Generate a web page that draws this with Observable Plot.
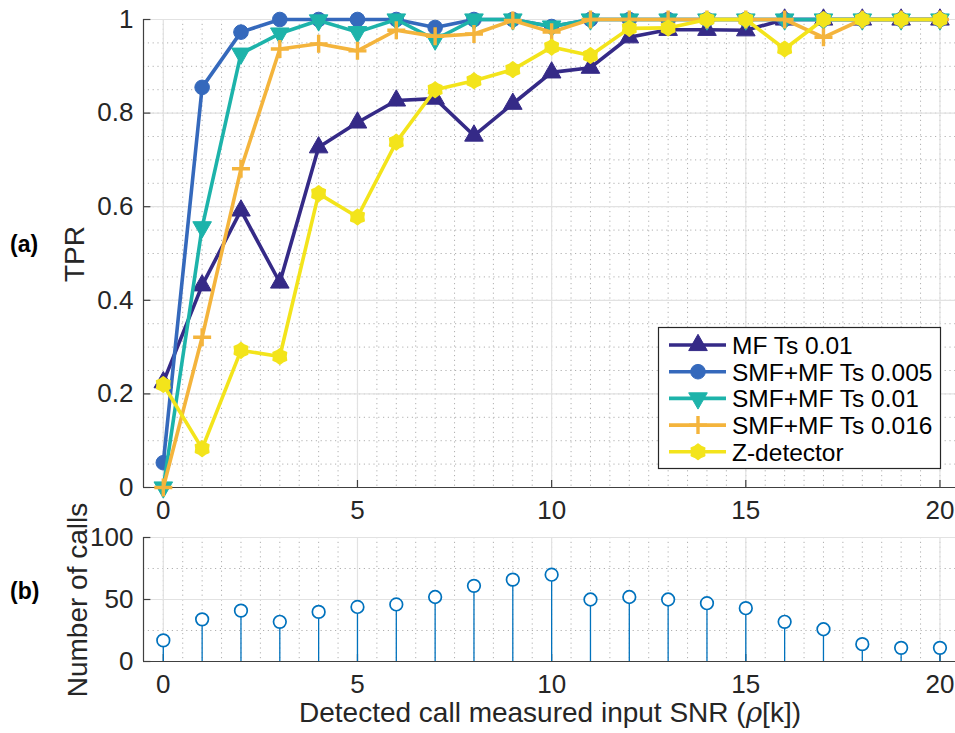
<!DOCTYPE html>
<html><head><meta charset="utf-8">
<script src="https://cdn.jsdelivr.net/npm/d3@7"></script>
<script src="https://cdn.jsdelivr.net/npm/@observablehq/plot@0.6"></script>
<style>
body{margin:0;background:#fff;}
#wrap{position:relative;width:955px;height:733px;overflow:hidden;background:#fff;}
#wrap > svg, #wrap > div{position:absolute;}
</style></head><body><div id="wrap"></div>
<script>
// ---------- data ----------
const snr = [0,1,2,3,4,5,6,7,8,9,10,11,12,13,14,15,16,17,18,19,20];
const mfTs001    = [0.225,0.432,0.592,0.438,0.727,0.780,0.827,0.831,0.752,0.820,0.887,0.897,0.962,0.978,0.978,0.977,1,1,1,1,1];
const smfTs0005  = [0.053,0.855,0.973,1,1,1,1,0.983,1,1,0.985,1,1,1,1,1,1,1,1,1,1];
const smfTs001   = [0,0.556,0.927,0.970,0.998,0.973,1,0.957,1,1,0.985,1,1,1,1,1,1,1,1,1,1];
const smfTs0016  = [0,0.321,0.681,0.937,0.948,0.933,0.977,0.964,0.969,0.998,0.973,1,1,1,1,1,1,0.962,1,1,1];
const zDetector  = [0.220,0.083,0.293,0.280,0.628,0.578,0.738,0.850,0.869,0.893,0.941,0.923,0.981,0.982,1,1,0.937,1,1,1,1];
const numCalls   = [17,34,41,32,40,44,46,52,61,66,70,50,52,50,47,43,32,26,14,11,11];

const seriesNames  = ["MF Ts 0.01","SMF+MF Ts 0.005","SMF+MF Ts 0.01","SMF+MF Ts 0.016","Z-detector"];
const seriesValues = [mfTs001, smfTs0005, smfTs001, smfTs0016, zDetector];
const seriesColors = ["#352a87","#3569bc","#1db3aa","#f4b43c","#f3e41b"];

const xTicks = [0,5,10,15,20];
const xTickLabels = ["0","5","10","15","20"];
const yTicksTop = [0,0.2,0.4,0.6,0.8,1];
const yTickLabelsTop = ["0","0.2","0.4","0.6","0.8","1"];
const yTicksBottom = [0,50,100];
const yTickLabelsBottom = ["0","50","100"];

// ---------- symbols ----------
const rad = s => Math.sqrt(s / Math.PI);
const triUp = {draw(c, s){const r = rad(s); c.moveTo(0,-r*1.15); c.lineTo(r,r*0.6); c.lineTo(-r,r*0.6); c.closePath();}};
const triDown = {draw(c, s){const r = rad(s); c.moveTo(0,r*1.15); c.lineTo(r,-r*0.6); c.lineTo(-r,-r*0.6); c.closePath();}};
const plusSym = {draw(c, s){const r = rad(s); c.moveTo(-r,0); c.lineTo(r,0); c.moveTo(0,-r); c.lineTo(0,r);}};
const circSym = {draw(c, s){const r = rad(s); c.moveTo(r,0); c.arc(0,0,r,0,2*Math.PI);}};
const hexaSym = {draw(c, s){const R = rad(s), ri = R*0.8; for(let k=0;k<12;k++){const a = -Math.PI/2 + k*Math.PI/6; const rr = k%2 ? ri : R; const px = rr*Math.cos(a), py = rr*Math.sin(a); if(k===0) c.moveTo(px,py); else c.lineTo(px,py);} c.closePath();}};
const seriesSymbols = [triUp, circSym, triDown, plusSym, hexaSym];
const seriesR = [9.3, 7.3, 9.3, 9, 7.6];
const seriesFilled = [true, true, true, false, true];
const seriesEdge = [1, 1, 1, 3.4, 1.8];

// ---------- layout ----------
const FONT = '"Liberation Sans", Arial, Helvetica, sans-serif';
const TXT = "#262626";
const AX = "#404040";
const MAJ = "#e2e2e2";
const MIN = "#b0b0b0";
const xDomain = [-0.51, 20.4];
const wrap = document.getElementById("wrap");

const minorX = d3.range(0, 20.01, 0.5);
const minorYTop = d3.range(0.05, 1.0, 0.05);
const minorYBottom = [25, 75];

function gridAndAxes(yTicks, yLabels, minorY, yDomain, tickLenY) {
  return [
    Plot.ruleX(minorX, {stroke: MIN, strokeWidth: 1, strokeDasharray: "1.2,3.6"}),
    Plot.ruleY(minorY, {stroke: MIN, strokeWidth: 1, strokeDasharray: "1.2,3.6"}),
    Plot.ruleX(xTicks, {stroke: MAJ, strokeWidth: 1.2}),
    Plot.ruleY(yTicks, {stroke: MAJ, strokeWidth: 1.2}),
    Plot.ruleX([xDomain[0]], {stroke: AX, strokeWidth: 1.2}),
    Plot.ruleY([yDomain[0]], {x1: xDomain[0], x2: xDomain[1], stroke: AX, strokeWidth: 1.2}),
    Plot.ruleX(xTicks, {y1: yDomain[0], y2: yDomain[0] + tickLenY, stroke: AX, strokeWidth: 1.2}),
    Plot.ruleY(yTicks, {x1: xDomain[0], x2: xDomain[0] + 0.19, stroke: AX, strokeWidth: 1.2}),
    Plot.axisX(xTicks, {tickSize: 0, tickPadding: 13, label: null, tickFormat: (d, i) => xTickLabels[i], fontSize: 26, fill: TXT}),
    Plot.axisY(yTicks, {tickSize: 0, tickPadding: 10, label: null, tickFormat: (d, i) => yLabels[i], fontSize: 26, fill: TXT})
  ];
}

// ---------- top plot (TPR) ----------
const seriesMarks = [];
seriesValues.forEach((vals, i) => {
  const rows = snr.map((x, j) => ({x, y: vals[j]}));
  seriesMarks.push(Plot.line(rows, {x: "x", y: "y", stroke: seriesColors[i], strokeWidth: 3.6, strokeLinejoin: "round"}));
  seriesMarks.push(Plot.dot(rows, {
    x: "x", y: "y", symbol: seriesSymbols[i], r: seriesR[i],
    fill: seriesFilled[i] ? seriesColors[i] : "none",
    stroke: seriesColors[i], strokeWidth: seriesEdge[i], strokeLinejoin: "round"
  }));
});

const topPlot = Plot.plot({
  width: 955, height: 520,
  marginTop: 19, marginBottom: 33, marginLeft: 143, marginRight: 0,
  x: {domain: xDomain},
  y: {domain: [0, 1]},
  style: {fontFamily: FONT, fontSize: "26px", color: TXT, background: "transparent", overflow: "visible"},
  marks: [...gridAndAxes(yTicksTop, yTickLabelsTop, minorYTop, [0, 1], 0.015), ...seriesMarks]
});
topPlot.style.left = "0px"; topPlot.style.top = "0px";
wrap.appendChild(topPlot);

// ---------- bottom plot (number of calls) ----------
const callRows = snr.map((x, j) => ({x, y: numCalls[j]}));
const bottomPlot = Plot.plot({
  width: 955, height: 213,
  marginTop: 17, marginBottom: 72, marginLeft: 143, marginRight: 0,
  x: {domain: xDomain},
  y: {domain: [0, 100]},
  style: {fontFamily: FONT, fontSize: "26px", color: TXT, background: "transparent", overflow: "visible"},
  marks: [
    ...gridAndAxes(yTicksBottom, yTickLabelsBottom, minorYBottom, [0, 100], 5.6),
    Plot.ruleX(callRows, {x: "x", y1: 0, y2: "y", stroke: "#0072BD", strokeWidth: 1.3}),
    Plot.dot(callRows, {x: "x", y: "y", r: 6.3, stroke: "#0072BD", strokeWidth: 1.7, fill: "white"})
  ]
});
bottomPlot.style.left = "0px"; bottomPlot.style.top = "520px";
wrap.appendChild(bottomPlot);

// ---------- labels & legend overlay ----------
const ov = d3.select(wrap).append("svg")
  .attr("width", 955).attr("height", 733)
  .style("left", "0px").style("top", "0px")
  .style("font-family", FONT).style("pointer-events", "none");

ov.append("text").attr("transform", "translate(84,254) rotate(-90)")
  .attr("text-anchor", "middle").attr("font-size", 28).attr("fill", TXT).text("TPR");
ov.append("text").attr("transform", "translate(87,600) rotate(-90)")
  .attr("text-anchor", "middle").attr("font-size", 28).attr("fill", TXT).text("Number of calls");
const xl = ov.append("text").attr("x", 550).attr("y", 722)
  .attr("text-anchor", "middle").attr("font-size", 28).attr("fill", TXT);
xl.append("tspan").text("Detected call measured input SNR (");
xl.append("tspan").attr("font-style", "italic").attr("font-family", '"DejaVu Serif", "Liberation Serif", serif').text("ρ");
xl.append("tspan").text("[k])");
ov.append("text").attr("x", 10).attr("y", 252).attr("font-size", 23).attr("font-weight", "bold").attr("fill", "#000").text("(a)");
ov.append("text").attr("x", 10).attr("y", 599).attr("font-size", 23).attr("font-weight", "bold").attr("fill", "#000").text("(b)");

// legend
const lg = ov.append("g");
lg.append("rect").attr("x", 658.5).attr("y", 327.5).attr("width", 282).attr("height", 141)
  .attr("fill", "white").attr("stroke", "#262626").attr("stroke-width", 1.2);
seriesNames.forEach((name, i) => {
  const cy = 345 + i * 26.7;
  const g = lg.append("g");
  g.append("line").attr("x1", 669).attr("x2", 726).attr("y1", cy).attr("y2", cy)
    .attr("stroke", seriesColors[i]).attr("stroke-width", 3.6);
  const r = seriesR[i];
  g.append("path").attr("transform", `translate(698,${cy})`)
    .attr("d", d3.symbol().type(seriesSymbols[i]).size(r * r * Math.PI)())
    .attr("fill", seriesFilled[i] ? seriesColors[i] : "none")
    .attr("stroke", seriesColors[i]).attr("stroke-width", seriesEdge[i]).attr("stroke-linejoin", "round");
  g.append("text").attr("x", 732).attr("y", cy).attr("dy", "0.36em")
    .attr("font-size", 24.5).attr("fill", "#000").text(name);
});
</script>
</body></html>
